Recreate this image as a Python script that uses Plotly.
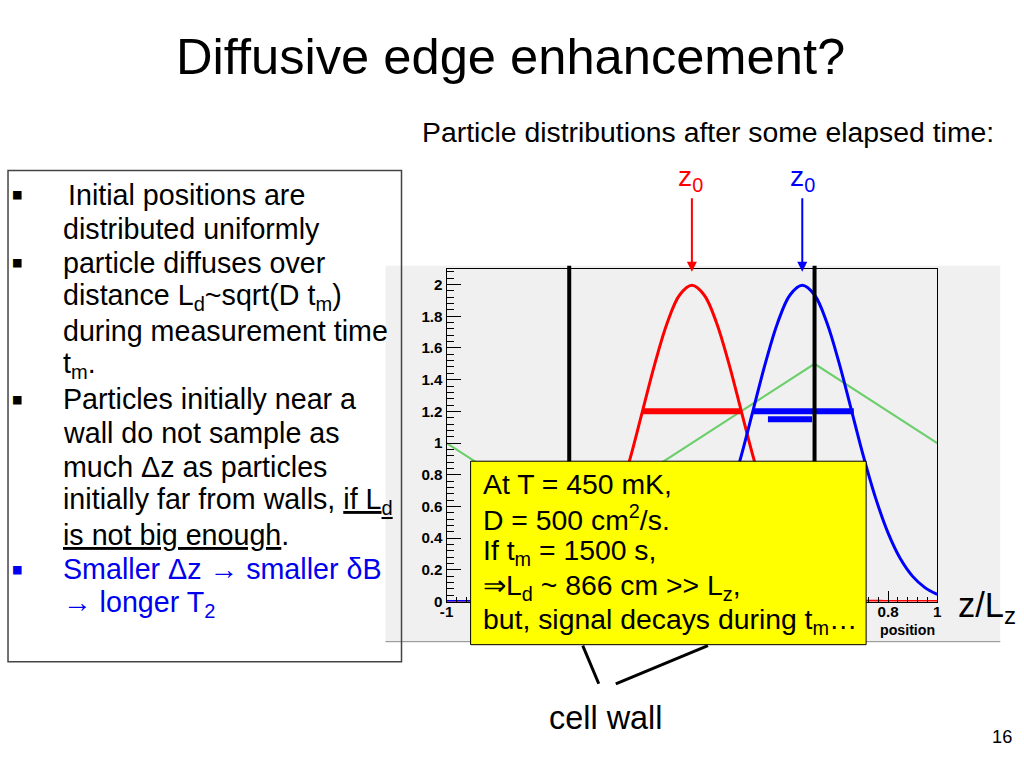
import plotly.graph_objects as go

# ---------------- data ----------------
positions = [-1.00, -0.95, -0.90, -0.85, -0.80, -0.75, -0.70, -0.65, -0.60, -0.55,
             -0.50, -0.45, -0.40, -0.35, -0.30, -0.25, -0.20, -0.15, -0.10, -0.05,
             0.00, 0.05, 0.10, 0.15, 0.20, 0.25, 0.30, 0.35, 0.40, 0.45,
             0.50, 0.55, 0.60, 0.65, 0.70, 0.75, 0.80, 0.85, 0.90, 0.95, 1.00]

red_density = [0.000, 0.000, 0.000, 0.000, 0.000, 0.002, 0.004, 0.010, 0.022, 0.045,
               0.088, 0.159, 0.270, 0.432, 0.648, 0.913, 1.210, 1.506, 1.761, 1.934,
               1.995, 1.934, 1.761, 1.506, 1.210, 0.913, 0.648, 0.432, 0.270, 0.159,
               0.088, 0.045, 0.022, 0.010, 0.004, 0.002, 0.000, 0.000, 0.000, 0.000, 0.000]

blue_density = [0.000, 0.000, 0.000, 0.000, 0.000, 0.000, 0.000, 0.000, 0.000, 0.000,
                0.000, 0.000, 0.000, 0.000, 0.002, 0.004, 0.010, 0.022, 0.045, 0.088,
                0.159, 0.270, 0.432, 0.648, 0.913, 1.210, 1.506, 1.761, 1.934, 1.995,
                1.934, 1.761, 1.506, 1.210, 0.913, 0.648, 0.432, 0.270, 0.159, 0.088, 0.045]

green_x = [-1.0, -0.5, 0.5, 1.0]
green_y = [1.0, 0.5, 1.5, 1.0]

red_bar_x = [-0.20, 0.20]
red_bar_y = [1.20, 1.20]
blue_bar_x = [0.25, 0.66]
blue_bar_y = [1.20, 1.20]
blue_bar2_x = [0.31, 0.49]
blue_bar2_y = [1.15, 1.15]

wall_x = [-0.5, 0.5]
z0_red = 0.0
z0_blue = 0.45

# labels hidden behind the yellow box in the original are left blank
x_tick_vals = [-1.0, -0.8, -0.6, -0.4, -0.2, 0.0, 0.2, 0.4, 0.6, 0.8, 1.0]
x_tick_text = ["-1", "", "", "", "", "", "", "", "", "0.8", "1"]
y_tick_vals = [0.0, 0.2, 0.4, 0.6, 0.8, 1.0, 1.2, 1.4, 1.6, 1.8, 2.0]
y_tick_text = ["0", "0.2", "0.4", "0.6", "0.8", "1", "1.2", "1.4", "1.6", "1.8", "2"]

left_lines = [
    "Initial positions are",
    "distributed uniformly",
    "particle diffuses over",
    "distance L<sub>d</sub>~sqrt(D t<sub>m</sub>)",
    "during measurement time",
    "t<sub>m</sub>.",
    "Particles initially near a",
    "wall do not sample as",
    "much \u0394z as particles",
    "initially far from walls, <u>if L<sub>d</sub></u>",
    "<u>is not big enough</u>.",
    "Smaller \u0394z \u2192 smaller \u03b4B",
    "\u2192 longer T<sub>2</sub>",
]
left_colors = ["black"] * 11 + ["#0000ee", "#0000ee"]
bullet_lines = [0, 2, 6, 11]

box_lines = [
    "At T = 450 mK,",
    "D = 500 cm<sup>2</sup>/s.",
    "If t<sub>m</sub> = 1500 s,",
    "\u21d2L<sub>d</sub> ~ 866 cm >> L<sub>z</sub>,",
    "but, signal decays during t<sub>m</sub>\u2026",
]

FONT = "Liberation Sans, Arial, sans-serif"
W, H = 1024, 768
# the photographed page comes out slightly shrunk; layout positions compensate
S = 0.987
OX = 7.0


def X(px):
    return (px - OX) / S / W


def Y(py):
    return 1 - (py / S) / H


def F(size):
    return size / S


fig = go.Figure()
fig.add_trace(go.Scatter(x=green_x, y=green_y, mode="lines",
                         line=dict(color="#6ccf6c", width=2.2)))
fig.add_trace(go.Scatter(x=positions, y=red_density, mode="lines",
                         line=dict(color="#ff0000", width=3, shape="spline")))
fig.add_trace(go.Scatter(x=positions, y=blue_density, mode="lines",
                         line=dict(color="#0000ff", width=3, shape="spline")))
fig.add_trace(go.Scatter(x=red_bar_x, y=red_bar_y, mode="lines",
                         line=dict(color="#ff0000", width=6)))
fig.add_trace(go.Scatter(x=blue_bar_x, y=blue_bar_y, mode="lines",
                         line=dict(color="#0000ff", width=6)))
fig.add_trace(go.Scatter(x=blue_bar2_x, y=blue_bar2_y, mode="lines",
                         line=dict(color="#0000ff", width=6)))

shapes = []
# ROOT canvas background
shapes.append(dict(type="rect", xref="paper", yref="paper", x0=X(385), x1=X(999),
                   y0=Y(640), y1=Y(265), fillcolor="#f0f0f0", line=dict(width=0),
                   layer="below"))
shapes.append(dict(type="line", xref="paper", yref="paper", x0=X(385), x1=X(999),
                   y0=Y(640), y1=Y(640), line=dict(color="#8a8a8a", width=1)))
# left text box
shapes.append(dict(type="rect", xref="paper", yref="paper", x0=max(X(1), 0.001), x1=X(401),
                   y0=Y(660), y1=Y(170), line=dict(color="#444444", width=1.5)))
# cell walls
for xw in wall_x:
    shapes.append(dict(type="line", xref="x", yref="paper", x0=xw, x1=xw,
                       y0=Y(640), y1=Y(265), line=dict(color="black", width=4),
                       layer="above"))
# yellow box
shapes.append(dict(type="rect", xref="paper", yref="paper", x0=X(470), x1=X(865),
                   y0=Y(643), y1=Y(460), fillcolor="#ffff00",
                   line=dict(color="black", width=1), layer="above"))
# pointer lines to "cell wall"
shapes.append(dict(type="line", xref="paper", yref="paper", x0=X(582), x1=X(598),
                   y0=Y(644), y1=Y(682), line=dict(color="black", width=3)))
shapes.append(dict(type="line", xref="paper", yref="paper", x0=X(707), x1=X(615),
                   y0=Y(644), y1=Y(682), line=dict(color="black", width=3)))

ann = []
ann.append(dict(text="Diffusive edge enhancement?", x=X(510), y=Y(56), xref="paper",
                yref="paper", showarrow=False, xanchor="center", yanchor="middle",
                font=dict(family=FONT, size=F(50), color="black")))
ann.append(dict(text="Particle distributions after some elapsed time:", x=X(419), y=Y(132),
                xref="paper", yref="paper", showarrow=False, xanchor="left",
                yanchor="middle", font=dict(family=FONT, size=F(28), color="black")))

# z0 arrows
for z0, col, lx in [(z0_red, "#ff0000", 690), (z0_blue, "#0000ff", 801)]:
    ann.append(dict(text="", x=z0, y=Y(271), xref="x", yref="paper", showarrow=True,
                    ax=0, ay=-74 / S, axref="pixel", ayref="pixel", arrowhead=2,
                    arrowsize=1, arrowwidth=2, arrowcolor=col, standoff=0))
    ann.append(dict(text="z<sub>0</sub>", x=X(lx), y=Y(178), xref="paper", yref="paper",
                    showarrow=False, xanchor="center", yanchor="middle",
                    font=dict(family=FONT, size=F(28), color=col)))

# left text
for i, (t, c) in enumerate(zip(left_lines, left_colors)):
    xpos = 66 if i == 0 else 61
    ann.append(dict(text=t, x=X(xpos), y=Y(194 + 34 * i), xref="paper", yref="paper",
                    showarrow=False, xanchor="left", yanchor="middle",
                    font=dict(family=FONT, size=F(28.3), color=c)))
for i in bullet_lines:
    ann.append(dict(text="\u25a0", x=X(17), y=Y(194 + 34 * i), xref="paper", yref="paper",
                    showarrow=False, xanchor="center", yanchor="middle",
                    font=dict(family="DejaVu Sans", size=F(11), color=left_colors[i])))

# yellow box text
for i, t in enumerate(box_lines):
    ann.append(dict(text=t, x=X(480), y=Y(483 + 34 * i), xref="paper", yref="paper",
                    showarrow=False, xanchor="left", yanchor="middle",
                    font=dict(family=FONT, size=F(28), color="black")))

ann.append(dict(text="z/L<sub>z</sub>", x=X(955), y=Y(606), xref="paper", yref="paper",
                showarrow=False, xanchor="left", yanchor="middle",
                font=dict(family=FONT, size=F(34), color="black")))
ann.append(dict(text="cell wall", x=X(605), y=Y(716), xref="paper", yref="paper",
                showarrow=False, xanchor="center", yanchor="middle",
                font=dict(family=FONT, size=F(32), color="black")))
ann.append(dict(text="16", x=X(1013), y=Y(735), xref="paper", yref="paper",
                showarrow=False, xanchor="right", yanchor="middle",
                font=dict(family=FONT, size=F(18), color="black")))
ann.append(dict(text="<b>position</b>", x=X(936), y=Y(628), xref="paper", yref="paper",
                showarrow=False, xanchor="right", yanchor="middle",
                font=dict(family=FONT, size=F(14), color="black")))

axis_common = dict(showline=True, linecolor="black", linewidth=1, mirror=True,
                   showgrid=False, zeroline=False, ticks="inside", tickcolor="black",
                   tickwidth=1, tickmode="array",
                   tickfont=dict(family=FONT, size=F(15), color="black", weight="bold"))

fig.update_layout(
    width=W, height=H, autosize=False,
    margin=dict(l=0, r=0, t=0, b=0),
    paper_bgcolor="white", plot_bgcolor="rgba(0,0,0,0)",
    showlegend=False,
    xaxis=dict(domain=[X(446), X(936)], range=[-1, 1], tickvals=x_tick_vals,
               ticktext=x_tick_text, ticklen=11, ticklabelstandoff=-4,
               minor=dict(tickmode="linear", tick0=-1, dtick=0.04, ticks="inside",
                          ticklen=5, tickcolor="black", showgrid=False),
               **axis_common),
    yaxis=dict(domain=[Y(600), Y(268)], range=[0, 2.1], tickvals=y_tick_vals,
               ticktext=y_tick_text, ticklen=14,
               minor=dict(tickmode="linear", tick0=0, dtick=0.04, ticks="inside",
                          ticklen=7, tickcolor="black", showgrid=False),
               **axis_common),
    shapes=shapes,
    annotations=ann,
)

page_fix = (
    "document.documentElement.style.margin='0';"
    "document.body.style.margin='0';"
    "document.body.style.overflow='hidden';"
    "var d=document.getElementById('{plot_id}');"
    "d.style.position='fixed';d.style.left='0px';d.style.top='0px';"
    "d.style.width='1024px';d.style.height='768px';"
)

fig.write_html("out.html", config={"displayModeBar": False}, post_script=page_fix)
